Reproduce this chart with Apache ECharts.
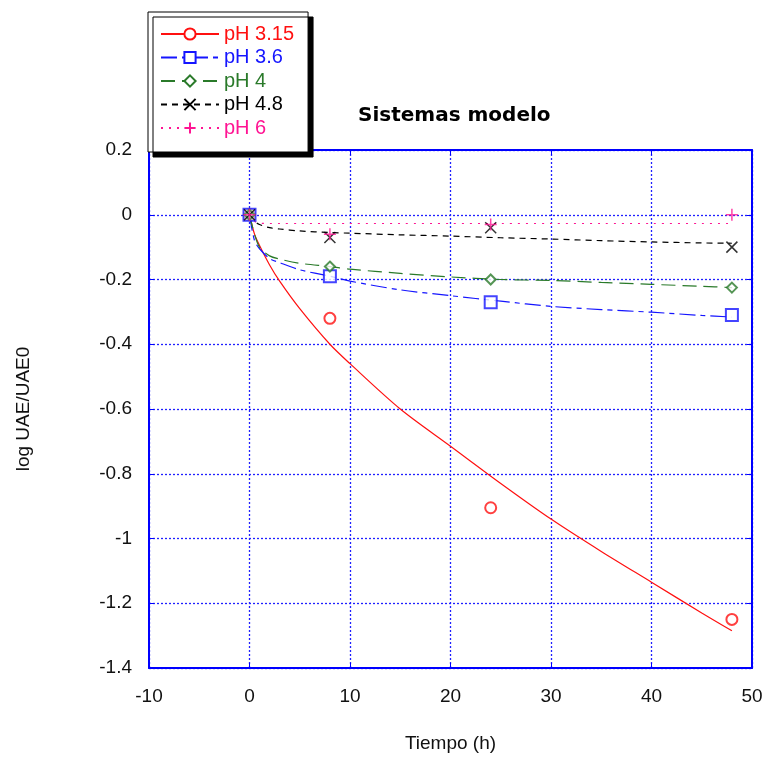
<!DOCTYPE html>
<html>
<head>
<meta charset="utf-8">
<script src="https://cdn.jsdelivr.net/npm/echarts@6/dist/echarts.min.js"></script>
<style>
  html, body { margin: 0; padding: 0; background: #fff; }
  #chart { width: 766px; height: 758px; }
</style>
</head>
<body>
<div id="chart"></div>
<script>
// Enzyme activity decay (log UAE/UAE0) over time for several pH values
const phLabels = ['pH 3.15', 'pH 3.6', 'pH 4', 'pH 4.8', 'pH 6'];
const phColors = ['#ff1010', '#1515ff', '#2a7a2a', '#000000', '#ff1493'];

// Measured points
const sampleTimes = [0, 8, 24, 48];
const measured315 = [0, -0.32, -0.905, -1.25];
const measured36 = [0, -0.19, -0.27, -0.31];
const measured4 = [0, -0.16, -0.20, -0.225];
const measured48 = [0, -0.07, -0.04, -0.10];
const measured6 = [0, -0.06, -0.03, 0];

// Fitted model curves
const fitTimes = [0, 0.5, 1, 2, 3, 5, 8, 10, 15, 20, 25, 30, 35, 40, 45, 48];
const fit315 = [0, -0.06, -0.095, -0.155, -0.205, -0.29, -0.40, -0.46, -0.60, -0.715, -0.83, -0.94, -1.04, -1.135, -1.23, -1.285];
const fit36 = [0, -0.08, -0.105, -0.135, -0.148, -0.17, -0.19, -0.205, -0.232, -0.25, -0.267, -0.283, -0.293, -0.301, -0.311, -0.316];
const fit4 = [0, -0.06, -0.10, -0.127, -0.137, -0.15, -0.16, -0.168, -0.181, -0.192, -0.20, -0.203, -0.209, -0.215, -0.221, -0.225];
const fit48 = [0, -0.02, -0.03, -0.04, -0.044, -0.05, -0.055, -0.057, -0.062, -0.066, -0.071, -0.075, -0.08, -0.084, -0.087, -0.088];
const fit6 = [0, -0.02, -0.026, -0.027, -0.027, -0.027, -0.027, -0.027, -0.027, -0.027, -0.027, -0.027, -0.027, -0.027, -0.027, -0.027];

const measuredSets = [measured315, measured36, measured4, measured48, measured6];
const fitSets = [fit315, fit36, fit4, fit48, fit6];

const symbols = [
  'emptyCircle',
  'emptyRect',
  'emptyDiamond',
  'path://M0,0L10,10M10,0L0,10',
  'path://M5,0L5,10M0,5L10,5'
];
const symbolSizes = [11, 12, 10, 11, 12];
const dashes = ['solid', [16, 5, 5, 5], [14, 7], [6, 5], [2, 6]];

const FONT = '"Liberation Sans", Arial, sans-serif';
const AXIS_BLUE = '#0000ff';
const GRID_LINE = { color: '#2020ff', width: 1.3, type: [2, 2] };

const zip = (xs, ys) => xs.map((x, i) => [x, ys[i]]);

const fitSeries = phLabels.map((name, i) => ({
  name: name,
  type: 'line',
  data: zip(fitTimes, fitSets[i]),
  showSymbol: false,
  symbol: symbols[i],
  symbolSize: symbolSizes[i],
  smooth: 0.3,
  lineStyle: { color: phColors[i], width: 1.2, type: dashes[i] },
  itemStyle: { color: phColors[i], borderColor: phColors[i], borderWidth: 1.5 },
  emphasis: { disabled: true },
  silent: true,
  z: 2
}));

const pointSeries = phLabels.map((name, i) => ({
  name: name,
  type: 'scatter',
  data: zip(sampleTimes, measuredSets[i]),
  symbol: symbols[i],
  symbolSize: symbolSizes[i],
  itemStyle: {
    color: i >= 3 ? 'rgba(0,0,0,0)' : phColors[i],
    borderColor: phColors[i],
    borderWidth: 1.5
  },
  emphasis: { disabled: true },
  silent: true,
  z: 3 + i
}));

const chart = echarts.init(document.getElementById('chart'), null, { renderer: 'canvas' });

chart.setOption({
  animation: false,
  backgroundColor: '#ffffff',
  title: {
    text: 'Sistemas modelo',
    left: 353,
    top: 101,
    textStyle: { fontFamily: '"DejaVu Sans", Verdana, sans-serif', fontWeight: 'bold', fontSize: 20, color: '#000' }
  },
  legend: {
    orient: 'vertical',
    left: 148,
    top: 12,
    padding: [12, 14, 14, 12],
    itemWidth: 58,
    itemHeight: 14,
    itemGap: 3.5,
    selectedMode: false,
    backgroundColor: '#ffffff',
    borderColor: '#000000',
    borderWidth: 1,
    borderRadius: 0,
    shadowColor: '#000000',
    shadowBlur: 0,
    shadowOffsetX: 5,
    shadowOffsetY: 5,
    textStyle: { fontFamily: FONT, fontSize: 20 },
    data: phLabels.map((name, i) => ({ name: name, textStyle: { color: phColors[i] } }))
  },
  grid: { left: 149, right: 14, top: 150, bottom: 87, containLabel: false },
  xAxis: [
    {
      type: 'value',
      min: -10,
      max: 50,
      interval: 10,
      name: 'Tiempo (h)',
      nameLocation: 'middle',
      nameGap: 66,
      nameTextStyle: { fontFamily: FONT, fontSize: 19, color: '#111' },
      axisLine: { onZero: false, lineStyle: { color: AXIS_BLUE, width: 2 } },
      axisTick: { inside: true, length: 5, lineStyle: { color: AXIS_BLUE, width: 1 } },
      axisLabel: { margin: 19, fontFamily: FONT, fontSize: 19, color: '#111' },
      splitLine: { show: true, lineStyle: GRID_LINE }
    },
    {
      type: 'value',
      position: 'top',
      min: -10,
      max: 50,
      interval: 10,
      axisLine: { onZero: false, lineStyle: { color: AXIS_BLUE, width: 2 } },
      axisTick: { inside: true, length: 5, lineStyle: { color: AXIS_BLUE, width: 1 } },
      axisLabel: { show: false },
      splitLine: { show: false }
    }
  ],
  yAxis: [
    {
      type: 'value',
      min: -1.4,
      max: 0.2,
      interval: 0.2,
      name: 'log UAE/UAE0',
      nameLocation: 'middle',
      nameGap: 116,
      nameTextStyle: { fontFamily: FONT, fontSize: 19, color: '#111' },
      axisLine: { onZero: false, lineStyle: { color: AXIS_BLUE, width: 2 } },
      axisTick: { inside: true, length: 5, lineStyle: { color: AXIS_BLUE, width: 1 } },
      axisLabel: { margin: 17, fontFamily: FONT, fontSize: 19, color: '#111' },
      splitLine: { show: true, lineStyle: GRID_LINE }
    },
    {
      type: 'value',
      position: 'right',
      min: -1.4,
      max: 0.2,
      interval: 0.2,
      axisLine: { onZero: false, lineStyle: { color: AXIS_BLUE, width: 2 } },
      axisTick: { inside: true, length: 5, lineStyle: { color: AXIS_BLUE, width: 1 } },
      axisLabel: { show: false },
      splitLine: { show: false }
    }
  ],
  series: fitSeries.concat(pointSeries)
});
</script>
</body>
</html>
